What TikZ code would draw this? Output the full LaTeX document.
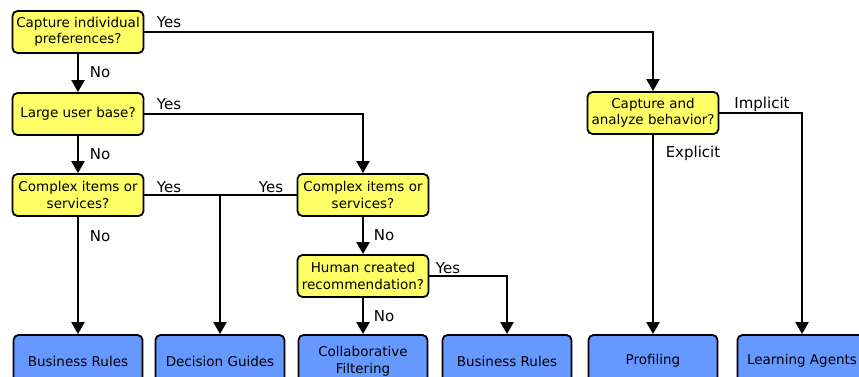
\documentclass[tikz,border=0pt]{standalone}
\usepackage{fontspec}
\setmainfont{DejaVu Sans}
\usetikzlibrary{arrows.meta}
\definecolor{askyellow}{RGB}{255,255,102}
\definecolor{endblue}{RGB}{102,153,255}

\begin{document}
\begin{tikzpicture}[x=1pt,y=-1pt,
    question/.style={draw,line width=1.8pt,rounded corners=5pt,fill=askyellow,
        minimum width=131pt,minimum height=42pt,align=center,inner sep=1pt,
        font=\fontsize{13.5}{16.5}\selectfont},
    outcome/.style={draw,line width=1.8pt,rounded corners=5pt,fill=endblue,
        minimum width=129pt,minimum height=52pt,align=center,inner sep=1pt,
        font=\fontsize{13.5}{17}\selectfont},
    flow/.style={line width=2pt,-{Triangle[width=13pt,length=12pt]}},
    answer/.style={inner sep=0pt,font=\fontsize{15}{17}\selectfont}]
    \useasboundingbox (0,0) rectangle (859,377);

    % questions
    \node[question] (indiv) at (78,32) {Capture individual\\preferences?};
    \node[question] (users) at (78,114) {Large user base?};
    \node[question] (itemsA) at (78,195) {Complex items or\\services?};
    \node[question] (itemsB) at (363,195) {Complex items or\\services?};
    \node[question] (human) at (363,276) {Human created\\recommendation?};
    \node[question] (behave) at (653,113) {Capture and\\analyze behavior?};

    % results
    \node[outcome] (rulesA) at (78,361) {Business Rules};
    \node[outcome] (guides) at (220,361) {Decision Guides};
    \node[outcome] (collab) at (363,361) {Collaborative\\Filtering};
    \node[outcome] (rulesB) at (507,361) {Business Rules};
    \node[outcome] (profile) at (653,361) {Profiling};
    \node[outcome] (agents) at (802,361) {Learning Agents};

    \coordinate (split) at (220,195);

    \draw[flow] (indiv) -- (users);
    \draw[flow] (users) -- (itemsA);
    \draw[flow] (itemsA) -- (rulesA);
    \draw[flow] (indiv.east) -| (behave.north);
    \draw[flow] (users.east) -| (itemsB.north);
    \draw[line width=2pt] (itemsA.east) -- (itemsB.west);
    \draw[flow] (split) -- (guides.north);
    \draw[flow] (itemsB) -- (human);
    \draw[flow] (human) -- (collab);
    \draw[flow] (human.east) -| (rulesB.north);
    \draw[flow] (behave) -- (profile);
    \draw[flow] (behave.east) -| (agents.north);

    % answers
    \node[answer] (a1) at (169,22) {Yes};
    \node[answer] (a2) at (100,72) {No};
    \node[answer] (a3) at (169,104) {Yes};
    \node[answer] (a4) at (100,154) {No};
    \node[answer] (a5) at (169,187) {Yes};
    \node[answer] (a6) at (271,187) {Yes};
    \node[answer] (a7) at (100,236) {No};
    \node[answer] (a8) at (384,235) {No};
    \node[answer] (a9) at (448,268) {Yes};
    \node[answer] (a10) at (384,316) {No};
    \node[answer] (a11) at (762,104) {Implicit};
    \node[answer] (a12) at (693,153) {Explicit};
\end{tikzpicture}
\end{document}
